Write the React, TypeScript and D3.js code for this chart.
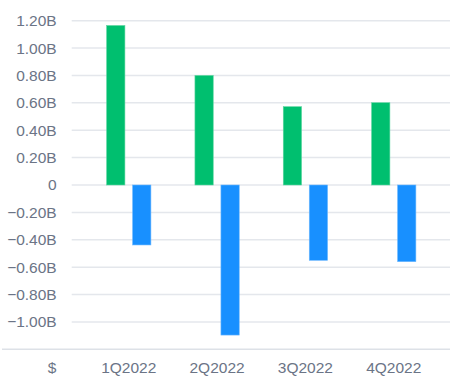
import React from "react";
import * as d3 from "d3";

const categories = ["1Q2022", "2Q2022", "3Q2022", "4Q2022"];
const positiveSeries = [1.165, 0.8, 0.572, 0.601];
const negativeSeries = [-0.438, -1.096, -0.55, -0.56];
const yTicks = [1.2, 1.0, 0.8, 0.6, 0.4, 0.2, 0, -0.2, -0.4, -0.6, -0.8, -1.0];
const unitLabel = "$";

const W = 450;
const H = 382;

export default function App() {
  const y = d3.scaleLinear().domain([-1.2, 1.2]).range([349.3, 20.7]);
  const x = d3.scaleBand<string>().domain(categories).range([84.6, 437.9]);
  const barW = 18.3;
  const off = 13;
  const fmt = (v: number) => (v === 0 ? "0" : d3.format(".2f")(v) + "B");
  const textColor = "#6b7486";
  const font = "'Liberation Sans', Arial, sans-serif";

  return (
    <svg
      width={W}
      height={H}
      style={{ position: "absolute", left: 0, top: 0 }}
      fontFamily={font}
    >
      {yTicks.map((t) => (
        <g key={t}>
          <line
            x1={71.7}
            x2={W}
            y1={y(t)}
            y2={y(t)}
            stroke="#e4e7ec"
            strokeWidth={1.5}
          />
          <text
            x={56.7}
            y={y(t)}
            dy="0.35em"
            textAnchor="end"
            fontSize={15.5}
            fill={textColor}
          >
            {fmt(t)}
          </text>
        </g>
      ))}
      <line
        x1={2}
        x2={W}
        y1={y(-1.2)}
        y2={y(-1.2)}
        stroke="#dde1e7"
        strokeWidth={1.5}
      />
      {categories.map((c, i) => {
        const cx = (x(c) as number) + x.bandwidth() / 2;
        const pv = positiveSeries[i];
        const nv = negativeSeries[i];
        return (
          <g key={c}>
            <rect
              x={cx - off - barW / 2}
              y={y(pv)}
              width={barW}
              height={y(0) - y(pv)}
              fill="#00bf6f"
              stroke="#5ed6a0"
              strokeWidth={0.6}
            />
            <rect
              x={cx + off - barW / 2}
              y={y(0)}
              width={barW}
              height={y(nv) - y(0)}
              fill="#1890ff"
              stroke="#6cb8ff"
              strokeWidth={0.6}
            />
            <text
              x={cx}
              y={368}
              dy="0.35em"
              textAnchor="middle"
              fontSize={15.5}
              fill={textColor}
            >
              {c}
            </text>
          </g>
        );
      })}
      <text
        x={52}
        y={368}
        dy="0.35em"
        textAnchor="middle"
        fontSize={15.5}
        fill={textColor}
      >
        {unitLabel}
      </text>
    </svg>
  );
}
